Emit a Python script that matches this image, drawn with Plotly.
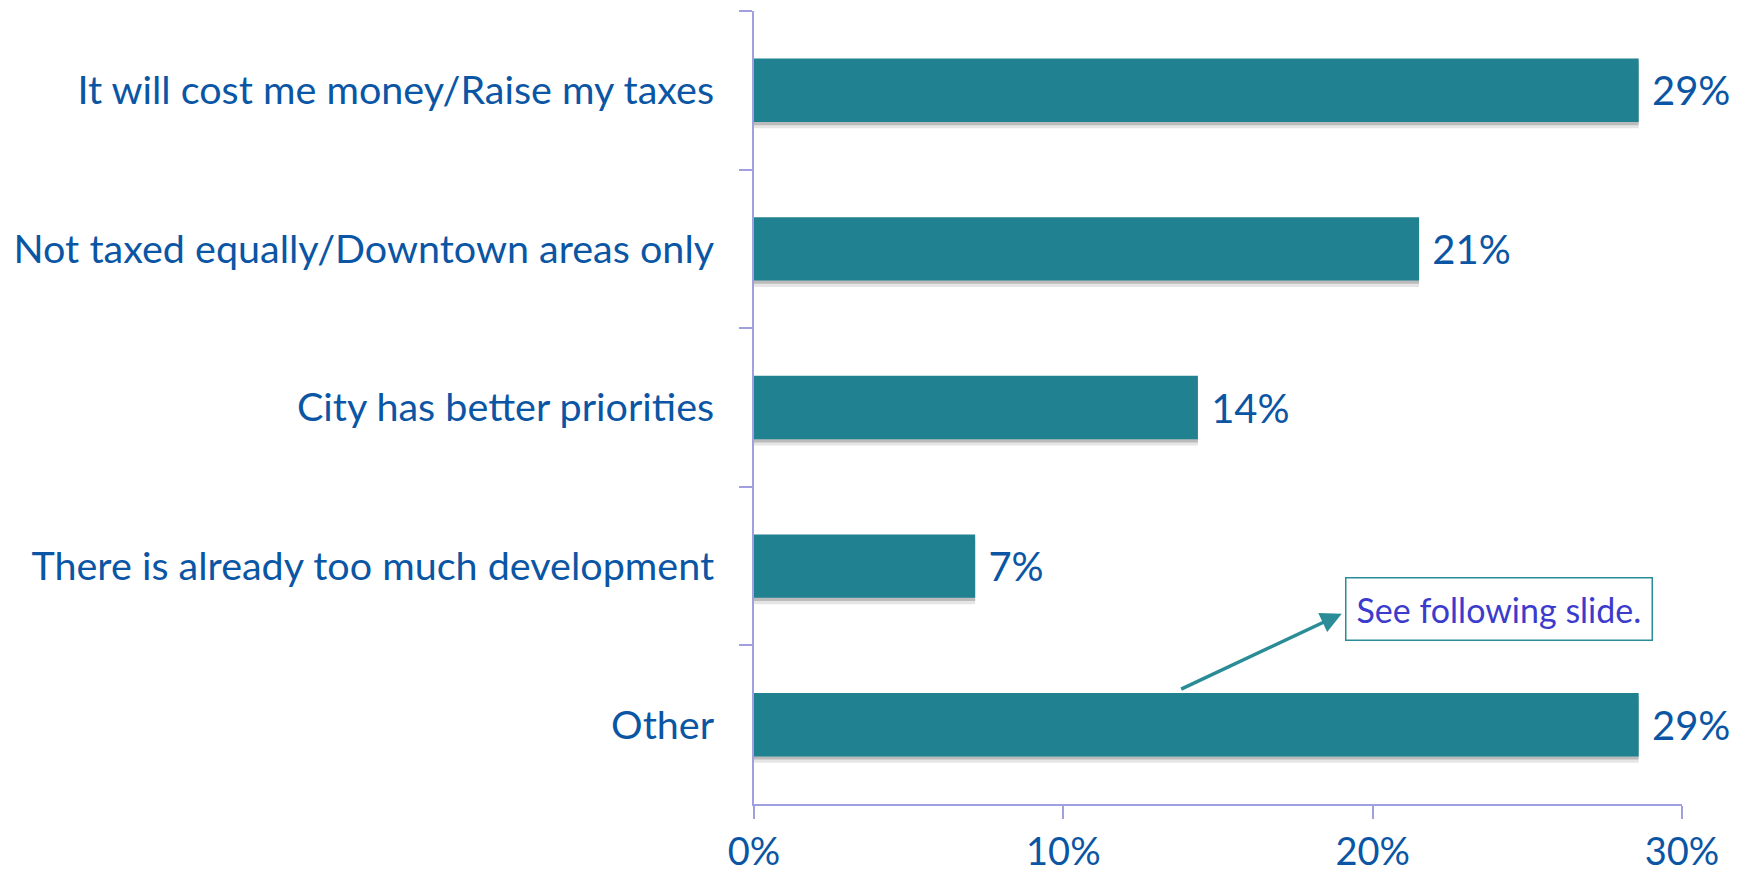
import plotly.graph_objects as go

categories = [
    "It will cost me money/Raise my taxes",
    "Not taxed equally/Downtown areas only",
    "City has better priorities",
    "There is already too much development",
    "Other",
]
values = [28.6, 21.5, 14.35, 7.15, 28.6]
value_labels = ["29%", "21%", "14%", "7%", "29%"]
x_tick_vals = [0, 10, 20, 30]
x_tick_text = ["0%", "10%", "20%", "30%"]

FONT = "Lato"
TEXT_COLOR = "#0B56A4"
BAR_COLOR = "#208290"
AXIS_COLOR = "#A0A0E0"

fig = go.Figure()

# soft shadow under bars
fig.add_trace(go.Bar(
    y=categories, x=values, orientation="h",
    marker=dict(color="rgba(0,0,0,0.10)", line=dict(width=0)),
    width=0.40, offset=-0.16,
    hoverinfo="skip", showlegend=False,
))
fig.add_trace(go.Bar(
    y=categories, x=values, orientation="h",
    marker=dict(color="rgba(0,0,0,0.18)", line=dict(width=0)),
    width=0.40, offset=-0.18,
    hoverinfo="skip", showlegend=False,
))

fig.add_trace(go.Bar(
    y=categories, x=values, orientation="h",
    marker=dict(color=BAR_COLOR, line=dict(width=0)),
    width=0.40, offset=-0.20,
    text=value_labels, texttemplate=" %{text}", textposition="outside",
    textfont=dict(family=FONT, size=40, color=TEXT_COLOR),
    constraintext="none", cliponaxis=False,
    showlegend=False,
))

# the page body adds an 8px margin, so the figure is 8px smaller each way
fig.update_layout(
    width=1738, height=866,
    margin=dict(l=746, r=64, t=3, b=70),
    paper_bgcolor="white", plot_bgcolor="white",
    barmode="overlay",
    font=dict(family=FONT, color=TEXT_COLOR),
    xaxis=dict(
        range=[0, 30], tickvals=x_tick_vals, ticktext=x_tick_text,
        showgrid=False, zeroline=False, automargin=False,
        showline=True, linecolor=AXIS_COLOR, linewidth=2,
        ticks="outside", ticklen=13, tickwidth=2, tickcolor=AXIS_COLOR,
        tickfont=dict(family=FONT, size=38, color=TEXT_COLOR),
        ticklabelstandoff=0,
    ),
    yaxis=dict(
        autorange="reversed", type="category",
        showgrid=False, zeroline=False, automargin=False,
        showline=True, linecolor=AXIS_COLOR, linewidth=2,
        ticks="outside", ticklen=13, tickwidth=2, tickcolor=AXIS_COLOR,
        tickson="boundaries",
        tickfont=dict(family=FONT, size=39.5, color=TEXT_COLOR),
        ticklabelstandoff=30,
    ),
)

# arrow from "Other" bar to note box
fig.add_annotation(
    x=19.0, y=3.30, ax=13.76, ay=3.78,
    xref="x", yref="y", axref="x", ayref="y",
    text="", showarrow=True,
    arrowhead=2, arrowsize=1.2, arrowwidth=3.5, arrowcolor="#2A8C96",
)
fig.add_annotation(
    x=24.1, y=3.27, xref="x", yref="y",
    text="See following slide.", showarrow=False,
    font=dict(family=FONT, size=34, color="#3C3CCC"),
    bordercolor="#2A8C96", borderwidth=1.5, borderpad=10,
    bgcolor="white",
)

fig.write_html("out.html")
